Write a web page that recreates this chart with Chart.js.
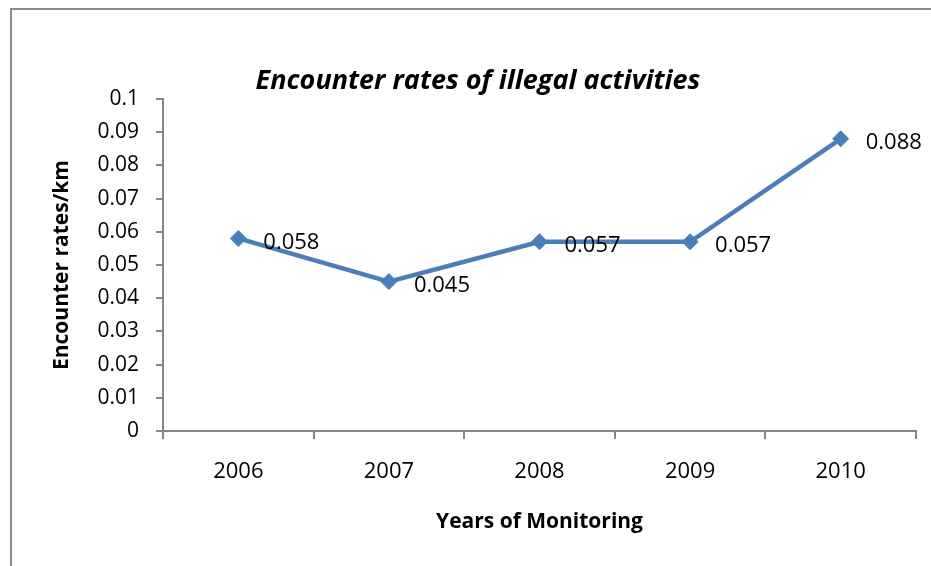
<!DOCTYPE html>
<html>
<head>
<meta charset="utf-8">
<script src="https://cdn.jsdelivr.net/npm/chart.js@4"></script>
<style>
  html, body { margin: 0; padding: 0; background: #fff; }
  #wrap { width: 931px; height: 566px; }
</style>
</head>
<body>
<div id="wrap"><canvas id="encounter-chart" width="931" height="566"></canvas></div>
<script>
// chart data
const years = ["2006", "2007", "2008", "2009", "2010"];
const encounterRates = [0.058, 0.045, 0.057, 0.057, 0.088];
const yTickLabels = ["0", "0.01", "0.02", "0.03", "0.04", "0.05", "0.06", "0.07", "0.08", "0.09", "0.1"];

const chartTitle = "Encounter rates of illegal activities";
const xTitle = "Years of Monitoring";
const yTitle = "Encounter rates/km";

const lineBlue = "#4a7ebb";
const axisGrey = "#868686";
const fontName = "'Open Sans', sans-serif";

// draws the outer frame, the title and the value labels next to the points
const extrasPlugin = {
    id: 'extras',
    beforeDraw(chart) {
        const ctx = chart.ctx;
        ctx.save();
        ctx.strokeStyle = "#8c8c8c";
        ctx.lineWidth = 2;
        ctx.beginPath();
        ctx.moveTo(11, 566);
        ctx.lineTo(11, 9);
        ctx.lineTo(931, 9);
        ctx.stroke();
        ctx.restore();
    },
    afterDatasetsDraw(chart) {
        const ctx = chart.ctx;
        ctx.save();
        ctx.fillStyle = "#000";
        ctx.font = "italic bold 27px " + fontName;
        ctx.textAlign = "center";
        ctx.textBaseline = "middle";
        ctx.fillText(chartTitle, 478, 81);

        ctx.font = "22px " + fontName;
        ctx.textAlign = "left";
        const meta = chart.getDatasetMeta(0);
        meta.data.forEach((pt, i) => {
            ctx.fillText(String(encounterRates[i]), pt.x + 25, pt.y + 4);
        });
        ctx.restore();
    }
};

new Chart(document.querySelector('#encounter-chart').getContext('2d'), {
    type: 'line',
    data: {
        labels: years,
        datasets: [{
            label: 'Encounter rates',
            data: encounterRates,
            borderColor: lineBlue,
            backgroundColor: lineBlue,
            borderWidth: 4.5,
            pointStyle: 'rectRot',
            pointRadius: 8,
            pointBackgroundColor: lineBlue,
            pointBorderColor: lineBlue,
            pointBorderWidth: 1,
            tension: 0
        }]
    },
    plugins: [extrasPlugin],
    options: {
        responsive: false,
        animation: false,
        events: [],
        layout: { padding: { top: 99, right: 15, left: 0, bottom: 0 } },
        plugins: {
            legend: { display: false },
            title: { display: false },
            tooltip: { enabled: false }
        },
        scales: {
            x: {
                offset: true,
                afterFit: (scale) => { scale.height = 135; },
                grid: {
                    offset: true,
                    drawOnChartArea: false,
                    drawTicks: true,
                    tickLength: 8,
                    color: axisGrey,
                    lineWidth: 2
                },
                border: { color: axisGrey, width: 2 },
                ticks: {
                    color: "#000",
                    padding: 20,
                    font: { family: fontName, size: 22 }
                },
                title: {
                    display: true,
                    text: xTitle,
                    color: "#000",
                    font: { family: fontName, size: 21, weight: 'bold', lineHeight: 1.2 },
                    padding: { top: 0, bottom: 31 }
                }
            },
            y: {
                min: 0,
                max: 0.1,
                afterFit: (scale) => { scale.width = 163; },
                grid: {
                    drawOnChartArea: false,
                    drawTicks: true,
                    tickLength: 7,
                    color: axisGrey,
                    lineWidth: 2
                },
                border: { color: axisGrey, width: 2 },
                ticks: {
                    stepSize: 0.01,
                    color: "#000",
                    padding: 17,
                    font: { family: fontName, size: 21 },
                    callback: (value, index) => yTickLabels[index]
                },
                title: {
                    display: true,
                    text: yTitle,
                    color: "#000",
                    font: { family: fontName, size: 21, weight: 'bold', lineHeight: 1.2 },
                    padding: { top: 49, bottom: 49 }
                }
            }
        }
    }
});
</script>
</body>
</html>
